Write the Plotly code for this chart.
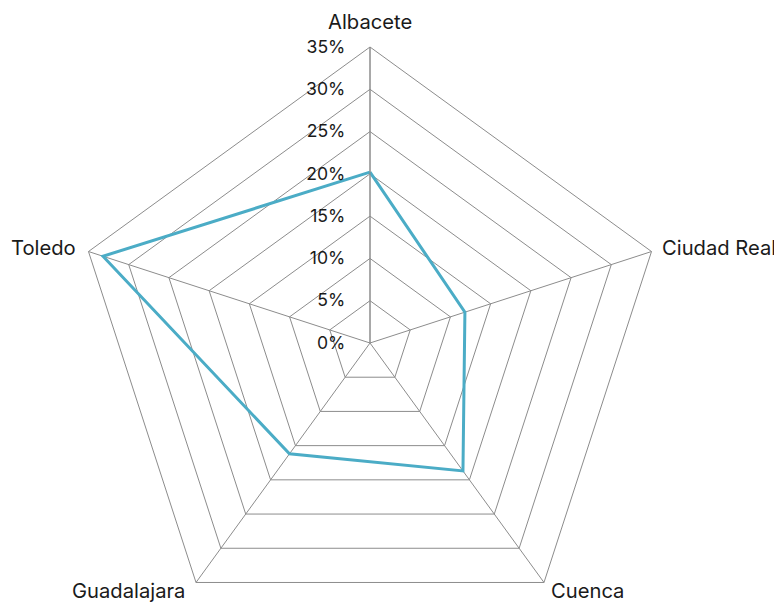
import plotly.graph_objects as go

provincias = ["Albacete", "Ciudad Real", "Cuenca", "Guadalajara", "Toledo"]
porcentajes = [20.2, 11.8, 18.7, 16.2, 33.2]
tick_vals = [0, 5, 10, 15, 20, 25, 30, 35]
tick_text = ["0%", "5%", "10%", "15%", "20%", "25%", "30%", "35%"]

W, H = 782, 650
ML, MR, MT, MB = 66, 124, 39, 19
PW, PH = W - ML - MR, H - MT - MB

# label placement (figure pixels) and anchors for the category labels
label_pos = [(362, 14, "center"), (653, 239, "left"), (579, 582, "center"),
             (120, 582, "center"), (69, 239, "right")]

fig = go.Figure()
fig.add_trace(go.Scatterpolar(
    r=porcentajes + porcentajes[:1],
    theta=provincias + provincias[:1],
    mode="lines",
    line=dict(color="#4BACC6", width=3),
    hoverinfo="skip",
))

annotations = []
for name, (px, py, anchor) in zip(provincias, label_pos):
    annotations.append(dict(
        text=name, xref="paper", yref="paper",
        x=(px - ML) / PW, y=1 - (py - MT) / PH,
        xanchor=anchor, yanchor="middle", showarrow=False,
        borderpad=0,
        font=dict(size=20.2, color="#1a1a1a"),
    ))

fig.update_layout(
    width=W, height=H,
    margin=dict(l=ML, r=MR, t=MT, b=MB),
    paper_bgcolor="white",
    showlegend=False,
    font=dict(family="Inter, Open Sans, sans-serif", size=20, color="#1a1a1a"),
    annotations=annotations,
    polar=dict(
        bgcolor="white",
        gridshape="linear",
        angularaxis=dict(
            direction="clockwise", rotation=90,
            showline=True, linecolor="#8c8c8c", linewidth=1,
            gridcolor="#8c8c8c", gridwidth=1,
            ticks="", showticklabels=False,
        ),
        radialaxis=dict(
            range=[0, 35], angle=90, tickangle=90,
            tickvals=tick_vals, ticktext=tick_text,
            showline=True, linecolor="#8c8c8c", linewidth=1,
            gridcolor="#8c8c8c", gridwidth=1,
            ticks="outside", ticklen=18, tickcolor="rgba(0,0,0,0)",
            side="counterclockwise",
            tickfont=dict(size=17.6),
        ),
    ),
)
fig.write_html("out.html")
